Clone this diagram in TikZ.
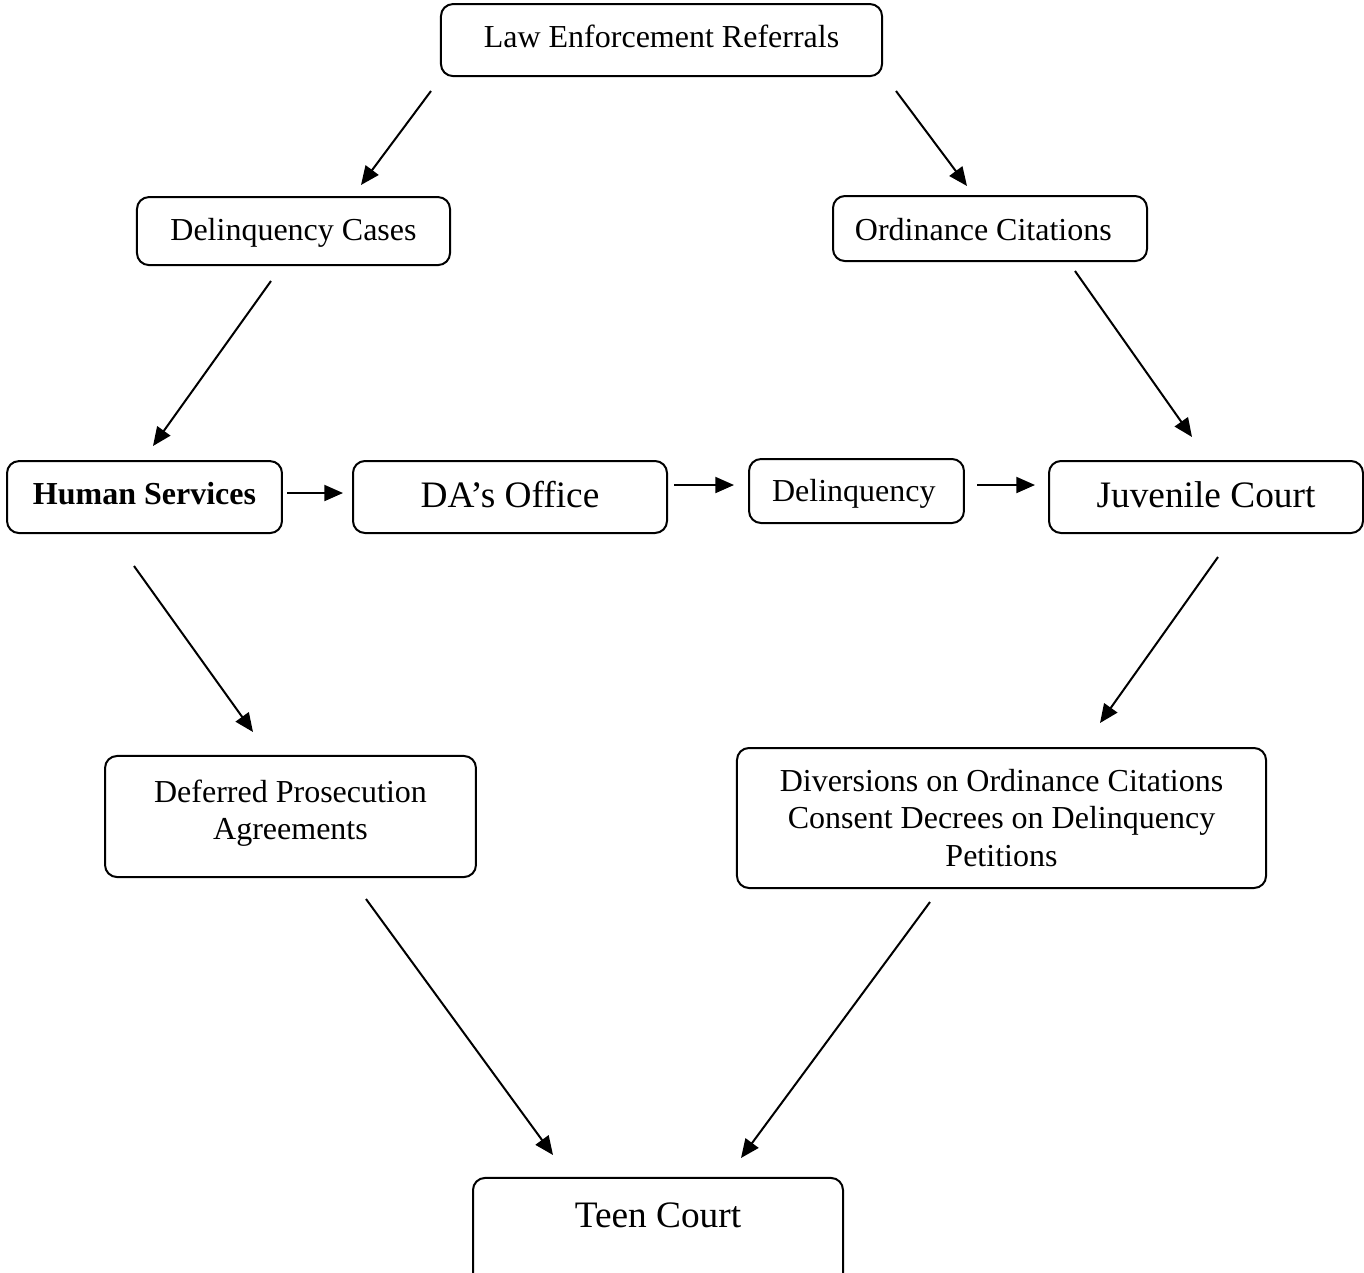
\documentclass[tikz,border=0pt]{standalone}
\usepackage{fontspec}
\setmainfont{Liberation Serif}
\usetikzlibrary{arrows.meta}
\tikzset{
  box/.style={draw, line width=0.75pt, rounded corners=4.5pt, inner sep=0pt, align=center, font=\fontsize{12}{14}\selectfont},
  bigtext/.style={font=\fontsize{14}{16}\selectfont},
  arr/.style={line width=0.75pt, -{Triangle[length=7pt,width=6pt]}}
}
\begin{document}
\begin{tikzpicture}[x=0.375pt,y=-0.375pt]
\useasboundingbox (0,0) rectangle (1364,1272);
% boxes
\node[box, anchor=base, minimum width=165.4pt, text height=16.1pt, text depth=10.9pt] (ler) at (661.5,47) {Law Enforcement Referrals};
\node[box, anchor=base, minimum width=117.4pt, text height=16.1pt, text depth=9.4pt] (dc) at (293.5,240) {Delinquency Cases};
\node[box, anchor=base, minimum width=117.75pt, text height=16.5pt, text depth=7.9pt] (oc) at (990,240) {Ordinance Citations\hspace*{5pt}};
\node[box, anchor=base, minimum width=103.1pt, text height=16.1pt, text depth=10.9pt, font=\fontsize{12}{14}\selectfont\bfseries] (hs) at (144.5,504) {Human Services};
\node[box, bigtext, anchor=base, minimum width=117.75pt, text height=17.25pt, text depth=9.75pt] (da) at (510,507) {DA’s Office};
\node[box, anchor=base, minimum width=80.6pt, text height=15.75pt, text depth=8.25pt] (del) at (856.5,501) {Delinquency\hspace*{2pt}};
\node[box, bigtext, anchor=base, minimum width=117.75pt, text height=17.25pt, text depth=9.75pt] (jc) at (1206,507) {Juvenile Court};
\node[box, minimum width=139.1pt, minimum height=45.4pt, text depth=5pt] (dpa) at (290.5,816.5) {Deferred Prosecution\\Agreements};
\node[box, minimum width=198.4pt, minimum height=52.5pt] (div) at (1001.5,818) {Diversions on Ordinance Citations\\Consent Decrees on Delinquency\\Petitions};
\node[box, bigtext, anchor=base, minimum width=138.75pt, text height=18.4pt, text depth=23.6pt] (tc) at (658,1227) {Teen Court};
% arrow end points
\coordinate (a1s) at (431,91);   \coordinate (a1e) at (361,185);
\coordinate (a2s) at (896,91);   \coordinate (a2e) at (967,186);
\coordinate (a3s) at (271,281);  \coordinate (a3e) at (153,446);
\coordinate (a4s) at (1075,271); \coordinate (a4e) at (1192,437);
\coordinate (a5s) at (287,493);  \coordinate (a5e) at (343,493);
\coordinate (a6s) at (674,485);  \coordinate (a6e) at (734,485);
\coordinate (a7s) at (977,485);  \coordinate (a7e) at (1035,485);
\coordinate (a8s) at (134,566);  \coordinate (a8e) at (253,732);
\coordinate (a9s) at (1218,557); \coordinate (a9e) at (1100,723);
\coordinate (a10s) at (366,899); \coordinate (a10e) at (553,1155);
\coordinate (a11s) at (930,902); \coordinate (a11e) at (741,1158);
\foreach \i in {1,...,11} \draw[arr] (a\i s) -- (a\i e);
\end{tikzpicture}
\end{document}
